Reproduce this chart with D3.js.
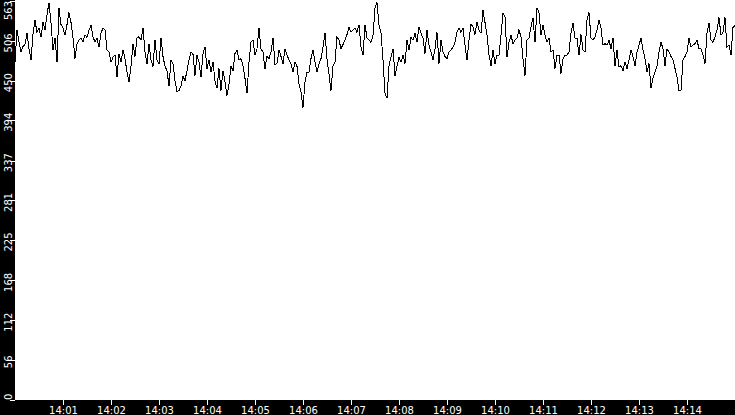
<!DOCTYPE html>
<html>
<head>
<meta charset="utf-8">
<script src="https://cdn.jsdelivr.net/npm/d3@7"></script>
<style>
  html, body { margin: 0; padding: 0; background: #000; overflow: hidden; }
  svg { display: block; }
  .axis text { fill: #fff; font-family: "DejaVu Sans", sans-serif; font-size: 10px; }
  .axis line { stroke: #fff; }
</style>
</head>
<body>
<script>
// samples every 2.5 seconds, starting at 14:00:00
const startTime = new Date(2024, 0, 1, 14, 0, 0)
const endTime = new Date(2024, 0, 1, 14, 15, 0)
const stepSeconds = 2.5

const values = [
  476, 522, 504, 490, 498, 501, 517, 495, 479, 515, 535, 518, 524, 511, 532, 521, 543, 560, 532, 493,
  510, 476, 552, 529, 524, 514, 529, 546, 532, 510, 481, 501, 507, 510, 505, 514, 511, 521, 528, 512,
  504, 510, 497, 517, 524,
  521, 493, 490, 476, 483, 486, 455, 488, 476, 493, 481, 462, 448, 470, 502, 484, 510, 512, 507, 524,
  490, 473, 501, 479, 470, 507, 479, 473, 510, 484, 470, 464, 442, 479, 474, 450, 434, 436, 442, 456,
  450, 464, 479, 490, 487,
  457, 486, 476, 455, 488, 497, 467, 479, 462, 476, 450, 439, 467, 436, 464, 448, 429, 445, 470, 464,
  488, 493, 479, 481, 471, 453, 432, 476, 504, 507, 486, 495, 524, 495, 490, 467, 484, 481, 490, 510,
  473, 474, 493, 484, 473,
  495, 486, 479, 474, 462, 476, 470, 445, 434, 412, 448, 462, 462, 481, 493, 476, 462, 473, 481, 497,
  517, 481, 459, 436, 470, 476, 512, 507, 495, 501, 507, 515, 525, 519, 521, 524, 518, 529, 497, 486,
  529, 510, 507, 504, 514,
  552, 560, 528, 518, 479, 432, 425, 471, 483, 495, 457, 470, 483, 476, 486, 474, 507, 493, 511, 507,
  517, 504, 526, 517, 510, 488, 521, 500, 490, 479, 495, 518, 474, 507, 490, 484, 481, 490, 493, 497,
  504, 518, 524, 518, 524,
  500, 479, 507, 529, 526, 515, 532, 521, 517, 549, 532, 514, 486, 471, 493, 474, 486, 486, 514, 545,
  540, 483, 504, 514, 502, 507, 510, 522, 511, 481, 457, 507, 510, 526, 538, 504, 553, 546, 514, 528,
  514, 504, 510, 490, 493,
  467, 486, 486, 460, 481, 486, 486, 490, 517, 531, 510, 510, 486, 515, 493, 490, 535, 546, 510, 507,
  512, 521, 535, 524, 500, 502, 500, 507, 495, 510, 471, 493, 469, 471, 464, 476, 467, 479, 493, 484,
  471, 490, 500, 510, 493,
  481, 462, 474, 439, 453, 462, 471, 490, 504, 495, 471, 495, 490, 484, 479, 467, 455, 436, 436, 479,
  484, 490, 510, 497, 500, 502, 507, 495, 495, 486, 474, 517, 531, 507, 504, 512, 521, 539, 514, 518,
  539, 497, 500, 486, 525, 528
]

const yTickLabels = [0, 56, 112, 168, 225, 281, 337, 394, 450, 506, 563]
const xTickLabels = ['14:01', '14:02', '14:03', '14:04', '14:05', '14:06', '14:07',
  '14:08', '14:09', '14:10', '14:11', '14:12', '14:13', '14:14']

const width = 735
const height = 415
const left = 15
const bottom = 400

const data = values.map((v, i) => ({
  t: new Date(startTime.getTime() + i * stepSeconds * 1000),
  v: v
}))

const x = d3.scaleTime()
  .domain([startTime, endTime])
  .range([left, width])

const y = d3.scaleLinear()
  .domain([0, 563])
  .range([bottom - 0.5, 0.5])

const svg = d3.select('body')
  .append('svg')
  .attr('width', width)
  .attr('height', height)
  .style('background', '#000')

svg.append('rect')
  .attr('x', left)
  .attr('y', 0)
  .attr('width', width - left)
  .attr('height', bottom)
  .attr('fill', '#fff')

const parseTick = d3.timeParse('%H:%M')
const xTicks = xTickLabels.map(s => {
  const p = parseTick(s)
  return new Date(2024, 0, 1, p.getHours(), p.getMinutes(), 0)
})

const xAxis = svg.append('g')
  .attr('class', 'axis')
  .attr('transform', `translate(0,${bottom})`)
  .call(d3.axisBottom(x)
    .tickValues(xTicks)
    .tickFormat(d3.timeFormat('%H:%M'))
    .tickSize(5)
    .tickPadding(2))
xAxis.select('.domain').remove()
xAxis.selectAll('line').attr('shape-rendering', 'crispEdges')

const yAxis = svg.append('g')
  .attr('class', 'axis')
  .attr('transform', `translate(${left},0)`)
  .call(d3.axisLeft(y)
    .tickValues(yTickLabels)
    .tickSize(5)
    .tickPadding(0))
yAxis.select('.domain').remove()
yAxis.selectAll('line').attr('shape-rendering', 'crispEdges')

// rotated labels, nudged a little below the tick but kept inside the plot height
yAxis.selectAll('.tick').attr('transform', null)
yAxis.selectAll('.tick line')
  .attr('y1', d => Math.round(y(d)) + 0.5)
  .attr('y2', d => Math.round(y(d)) + 0.5)
yAxis.selectAll('.tick text')
  .attr('x', null)
  .attr('dy', null)
  .attr('y', 3)
  .attr('text-anchor', 'middle')
  .attr('transform', function(d){
    const half = this.getComputedTextLength() / 2
    const c = Math.max(half + 1, Math.min(y(d) + 2, bottom - half))
    return `translate(-6,${c}) rotate(-90)`
  })

const line = d3.line()
  .x(d => x(d.t))
  .y(d => y(d.v))

svg.append('path')
  .datum(data)
  .attr('fill', 'none')
  .attr('stroke', '#000')
  .attr('stroke-width', 1)
  .attr('shape-rendering', 'crispEdges')
  .attr('d', line)
</script>
</body>
</html>
